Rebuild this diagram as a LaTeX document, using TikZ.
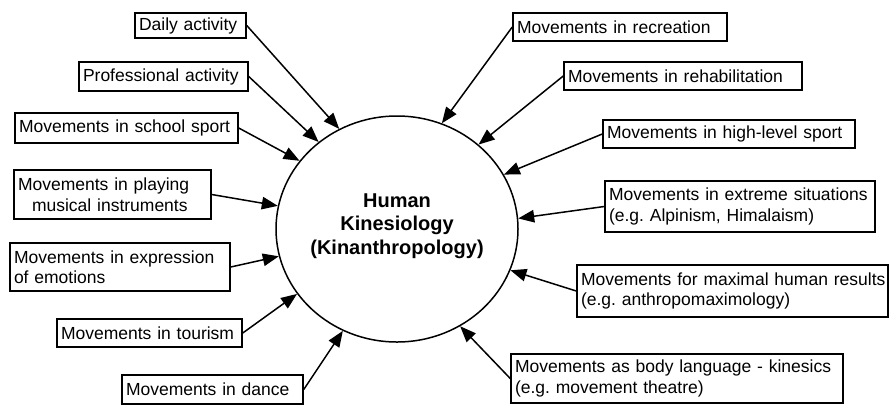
\documentclass[tikz,border=0pt]{standalone}
\usepackage{fontspec}
\setmainfont{Liberation Sans}
\usetikzlibrary{arrows.meta,shapes.geometric}
\frenchspacing
\begin{document}
\begin{tikzpicture}[x=1pt,y=-1pt,
  box/.style={draw, line width=1.5pt, inner xsep=4pt, inner ysep=2pt, align=left,
    font=\fontsize{17.5}{20.5}\selectfont\frenchspacing},
  arr/.style={-{Triangle[length=16pt,width=12.5pt]}, line width=1.5pt}]
\useasboundingbox (0,0) rectangle (890,405);
\node[draw, ellipse, line width=1.5pt, minimum width=242pt, minimum height=226pt, inner sep=0pt] (hk) at (397,229) {};
\node[align=center, font=\fontsize{20}{23.5}\selectfont\bfseries] (hktext) at (397,226) {Human\\Kinesiology\\(Kinanthropology)};
% left boxes
\node[box, text width=103pt, minimum height=25pt] (daily) at (190.5,25.5) {\mbox{Daily activity}};
\node[box, text width=161pt, minimum height=29pt] (prof) at (163.5,76.5) {\mbox{Professional activity}};
\node[box, text width=215pt, minimum height=30pt] (school) at (126.5,128) {\mbox{Movements in school sport}};
\node[box, text width=189pt, minimum height=49pt] (playing) at (112.5,194.5) {\mbox{Movements in playing}\\\hspace*{14pt}\mbox{musical instruments}};
\node[box, text width=212pt, minimum height=48pt] (expr) at (120,267) {\mbox{Movements in expression}\\\mbox{of emotions}};
\node[box, text width=177pt, minimum height=28pt] (tourism) at (149.5,333) {\mbox{Movements in tourism}};
\node[box, text width=173pt, minimum height=29pt] (dance) at (212.5,389.5) {\mbox{Movements in dance}};
% right boxes
\node[box, text width=206pt, minimum height=28pt] (recr) at (620,27) {\mbox{Movements in recreation}};
\node[box, text width=230pt, minimum height=28pt] (rehab) at (683,76) {\mbox{Movements in rehabilitation}};
\node[box, text width=244pt, minimum height=28pt] (high) at (729,134) {\mbox{Movements in high-level sport}};
\node[box, text width=262pt, minimum height=51pt] (extreme) at (740,206.5) {\mbox{Movements in extreme situations}\\\mbox{(e.g. Alpinism, Himalaism)}};
\node[box, text width=303pt, minimum height=52pt] (maximal) at (732.5,291) {\mbox{Movements for maximal human results}\\\mbox{(e.g. anthropomaximology)}};
\node[box, text width=324pt, minimum height=49pt] (body) at (677,378.5) {\mbox{Movements as body language - kinesics}\\\mbox{(e.g. movement theatre)}};
% arrows
\draw[arr] (daily.east) -- (hk.120.9);
\draw[arr] (prof.east) -- (hk.132.1);
\draw[arr] (school.east) -- (hk.145.1);
\draw[arr] (playing.east) -- (hk.169.5);
\draw[arr] (expr.east) -- (hk.193.2);
\draw[arr] (tourism.east) -- (hk.213.3);
\draw[arr] (dance.east) -- (hk.242.9);
\draw[arr] (recr.west) -- (hk.67.1);
\draw[arr] (rehab.west) -- (hk.46.4);
\draw[arr] (high.west) -- (hk.27.3);
\draw[arr] (extreme.west) -- (hk.5.8);
\draw[arr] (maximal.west) -- (hk.-20.0);
\draw[arr] (body.west) -- (hk.-57.3);
\end{tikzpicture}
\end{document}
